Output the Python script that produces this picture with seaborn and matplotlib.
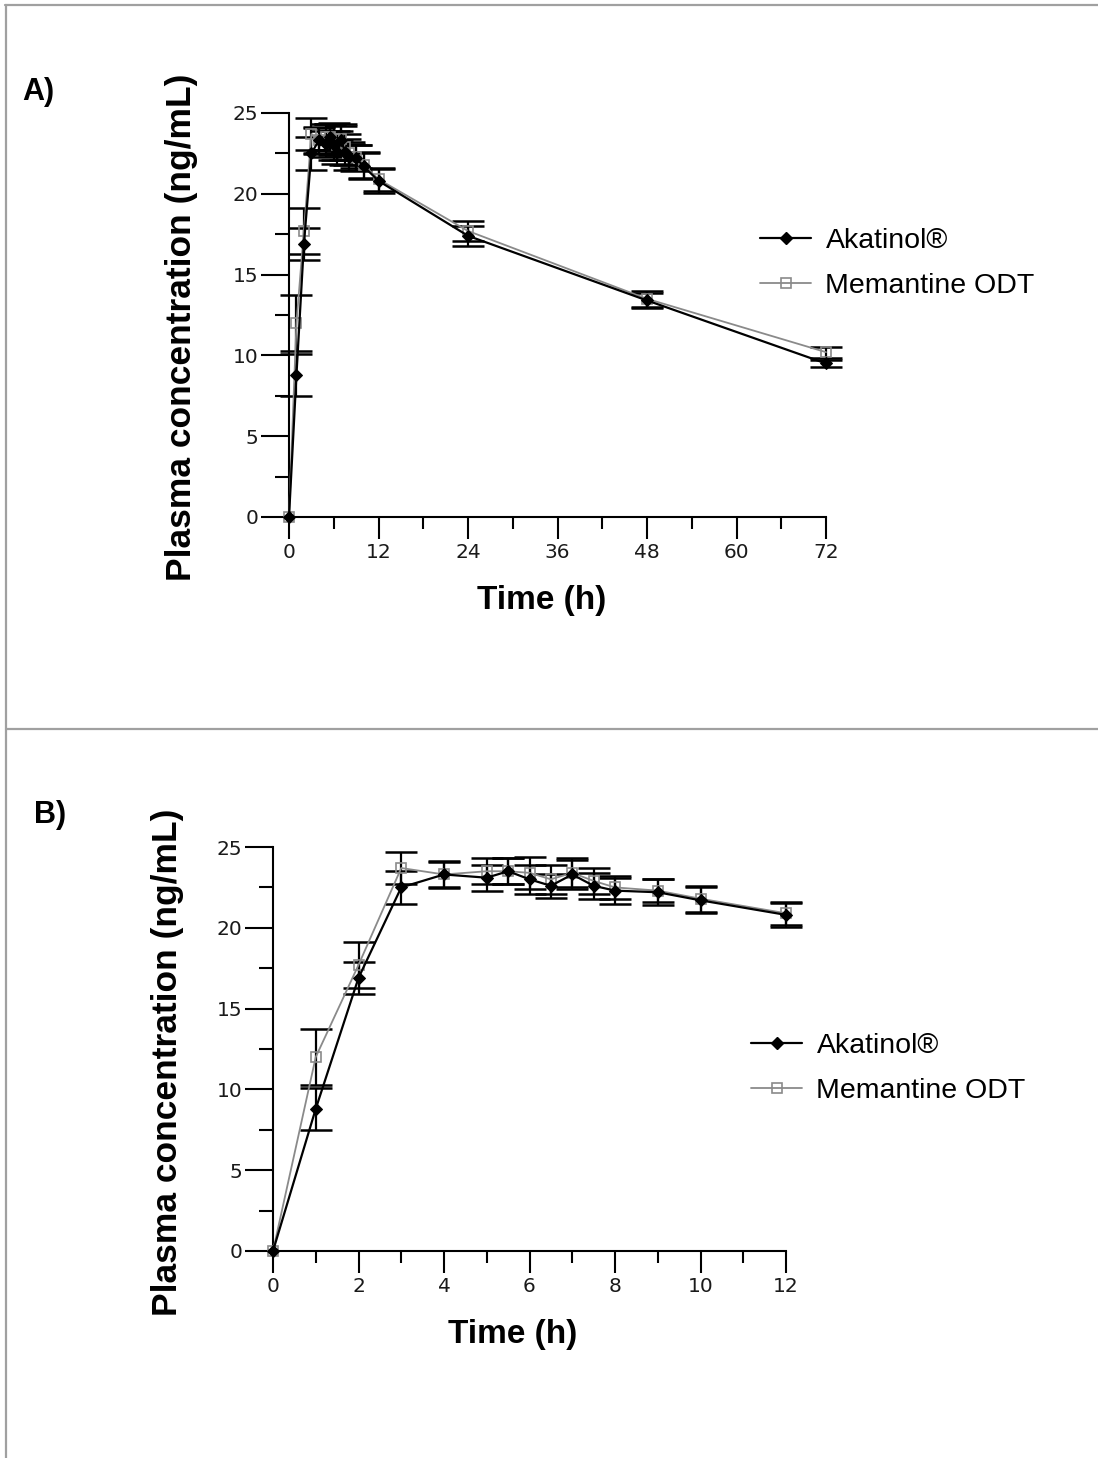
import matplotlib
matplotlib.use("Agg")
import matplotlib.pyplot as plt
from matplotlib.lines import Line2D
from matplotlib import font_manager
from matplotlib.ticker import MultipleLocator
import seaborn as sns
import pandas as pd

# ---------------- data ----------------
times = [0, 1, 2, 3, 4, 5, 5.5, 6, 6.5, 7, 7.5, 8, 9, 10, 12, 24, 48, 72]
akatinol_mean = [0, 8.8, 16.9, 22.5, 23.3, 23.1, 23.5, 23.0, 22.6, 23.3, 22.6, 22.3, 22.2, 21.7, 20.8, 17.4, 13.4, 9.5]
akatinol_sd = [0, 1.3, 1.0, 1.0, 0.85, 0.8, 0.8, 0.9, 0.75, 0.9, 0.8, 0.8, 0.8, 0.8, 0.75, 0.6, 0.45, 0.2]
memantine_mean = [0, 12.0, 17.7, 23.7, 23.3, 23.5, 23.5, 23.4, 23.0, 23.4, 22.9, 22.5, 22.3, 21.8, 20.9, 17.7, 13.5, 10.2]
memantine_sd = [0, 1.75, 1.4, 1.0, 0.8, 0.8, 0.8, 1.0, 0.9, 0.9, 0.8, 0.7, 0.7, 0.8, 0.7, 0.6, 0.5, 0.35]
series_names = ["Akatinol®", "Memantine ODT"]
panel_labels = ["A)", "B)"]
x_label = "Time (h)"
y_label = "Plasma concentration (ng/mL)"

df = pd.concat([
    pd.DataFrame({"time": times, "conc": akatinol_mean, "sd": akatinol_sd, "product": series_names[0]}),
    pd.DataFrame({"time": times, "conc": memantine_mean, "sd": memantine_sd, "product": series_names[1]}),
], ignore_index=True)

sns.set_style("ticks")
names = {f.name for f in font_manager.fontManager.ttflist}
tick_family = "Liberation Sans Narrow" if "Liberation Sans Narrow" in names else "DejaVu Sans"
plt.rcParams["font.family"] = ["Liberation Sans", "DejaVu Sans"]
plt.rcParams["text.color"] = "black"
plt.rcParams["axes.labelcolor"] = "black"

W, H = 1098, 1458
fig = plt.figure(figsize=(W / 100, H / 100), dpi=100)

# frame lines
gray = "#a0a0a0"
fig.add_artist(Line2D([5 / W, 1], [1 - 5 / H, 1 - 5 / H], color=gray, lw=1.6))
fig.add_artist(Line2D([6 / W, 6 / W], [0, 1 - 5 / H], color=gray, lw=1.6))
fig.add_artist(Line2D([6 / W, 1], [1 - 729 / H, 1 - 729 / H], color=gray, lw=1.6))

styles = {
    series_names[0]: dict(color="black", marker="D", markersize=6, mfc="black", mec="black", lw=1.6),
    series_names[1]: dict(color="#8a8a8a", marker="s", markersize=7.5, mfc="none", mec="#8a8a8a", mew=1.2, lw=1.3),
}

panels = [
    dict(l=289, r=826, t=113, b=517, xmax=72, major=12, minor=6, lx=760, ly=263.5, px=38, py=92),
    dict(l=273, r=786, t=847, b=1251, xmax=12, major=2, minor=1, lx=751, ly=1068.5, px=50, py=815),
]

for i, p in enumerate(panels):
    ax = fig.add_axes([p["l"] / W, 1 - p["b"] / H, (p["r"] - p["l"]) / W, (p["b"] - p["t"]) / H])
    sub = df[df["time"] <= p["xmax"]]
    for name in [series_names[1], series_names[0]]:
        d = sub[(sub["product"] == name) & (sub["sd"] > 0)]
        ax.errorbar(d["time"], d["conc"], yerr=d["sd"], fmt="none", ecolor="black",
                    elinewidth=1.6, capsize=11.5, capthick=1.8, clip_on=False, zorder=2)
    for name, z in [(series_names[1], 3), (series_names[0], 4)]:
        d = sub[sub["product"] == name]
        sns.lineplot(data=d, x="time", y="conc", estimator=None, ax=ax, legend=False,
                     clip_on=False, zorder=z, **styles[name])
    ax.set_xlim(0, p["xmax"])
    ax.set_ylim(0, 25)
    ax.xaxis.set_major_locator(MultipleLocator(p["major"]))
    ax.xaxis.set_minor_locator(MultipleLocator(p["minor"]))
    ax.yaxis.set_major_locator(MultipleLocator(5))
    ax.yaxis.set_minor_locator(MultipleLocator(2.5))
    sns.despine(ax=ax)
    for s in ["left", "bottom"]:
        ax.spines[s].set_linewidth(1.5)
        ax.spines[s].set_color("black")
    ax.tick_params(axis="y", which="major", length=20, width=1.5, color="black", direction="out", pad=2)
    ax.tick_params(axis="y", which="minor", length=10, width=1.5, color="black", direction="out")
    ax.tick_params(axis="x", which="major", length=15.5, width=1.5, color="black", direction="out", pad=3)
    ax.tick_params(axis="x", which="minor", length=8.5, width=1.5, color="black", direction="out")
    for lab in ax.get_xticklabels() + ax.get_yticklabels():
        lab.set_family(tick_family)
        lab.set_fontsize(16 if tick_family != "DejaVu Sans" else 14.5)
        lab.set_color("#1a1a1a")
    ax.set_xlabel(x_label, fontsize=24, fontweight="bold")
    ax.set_ylabel(y_label, fontsize=25.5, fontweight="bold")
    w = p["r"] - p["l"]
    h = p["b"] - p["t"]
    if i == 0:
        ax.xaxis.set_label_coords((542 - p["l"]) / w, (p["b"] - 601) / h)
        ax.yaxis.set_label_coords((181 - p["l"]) / w, (p["b"] - 327) / h)
    else:
        ax.xaxis.set_label_coords((513 - p["l"]) / w, (p["b"] - 1335) / h)
        ax.yaxis.set_label_coords((168 - p["l"]) / w, (p["b"] - 1062) / h)
    ax.xaxis.label.set_va("center")
    ax.yaxis.label.set_va("center")
    ax.yaxis.label.set_ha("center")

    handles = [Line2D([], [], **styles[n]) for n in series_names]
    ax.legend(handles, series_names, loc="center left",
              bbox_to_anchor=(p["lx"] / W, 1 - p["ly"] / H), bbox_transform=fig.transFigure,
              frameon=False, fontsize=20.5, handlelength=1.8, handletextpad=0.5,
              labelspacing=0.65, borderpad=0, borderaxespad=0, labelcolor="black")
    fig.text(p["px"] / W, 1 - p["py"] / H, panel_labels[i], fontsize=22, fontweight="bold",
             ha="center", va="center")

fig.savefig("out.png", dpi=100)
